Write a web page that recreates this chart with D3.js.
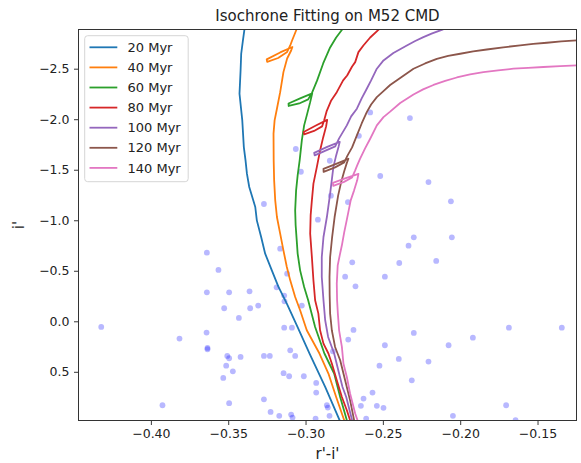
<!DOCTYPE html>
<html>
<head>
<meta charset="utf-8">
<script src="https://cdn.jsdelivr.net/npm/d3@7"></script>
<style>
  html, body { margin: 0; padding: 0; background: #fff; }
  svg { display: block; font-family: "DejaVu Sans", sans-serif; }
</style>
</head>
<body>
<svg id="chart" width="581" height="463"></svg>
<script>
// ---------- DATA ----------
const ages = ["20 Myr", "40 Myr", "60 Myr", "80 Myr", "100 Myr", "120 Myr", "140 Myr"];
const colors = ["#1f77b4", "#ff7f0e", "#2ca02c", "#d62728", "#9467bd", "#8c564b", "#e377c2"];
const xTicks = [-0.40, -0.35, -0.30, -0.25, -0.20, -0.15];
const yTicks = [-2.5, -2.0, -1.5, -1.0, -0.5, 0.0, 0.5];

// observed stars: [r'-i', i']
const stars = [
[-0.4321,0.056],[-0.3925,0.831],[-0.3815,0.171],[-0.3638,-0.679],[-0.3563,-0.508],[-0.3638,-0.287],
[-0.3494,-0.287],[-0.3362,-0.297],[-0.3526,-0.129],[-0.3358,-0.129],[-0.3306,-0.155],[-0.3431,-0.033],
[-0.3640,0.112],[-0.3634,0.264],[-0.3634,0.277],[-0.3506,0.343],[-0.3494,0.366],[-0.3513,0.439],
[-0.3470,0.495],[-0.3532,0.561],[-0.3420,0.353],[-0.3269,0.343],[-0.3231,0.343],[-0.3494,0.811],
[-0.3269,0.772],[-0.3226,0.897],[-0.3170,0.936],[-0.3269,-1.161],[-0.3164,-0.719],[-0.3187,-0.336],
[-0.3138,-0.254],[-0.3136,-0.198],[-0.3138,0.063],[-0.3088,0.063],[-0.3119,-0.471],[-0.3024,-0.155],
[-0.3099,0.287],[-0.3067,0.343],[-0.3142,0.514],[-0.3106,0.544],[-0.3011,0.544],[-0.2931,0.610],
[-0.2931,0.706],[-0.3093,0.923],[-0.3084,0.953],[-0.2935,0.963],[-0.3063,-1.705],[-0.3030,-1.480],
[-0.2920,-1.006],[-0.2843,-1.589],[-0.2836,-1.243],[-0.2726,-1.180],[-0.2582,-2.067],[-0.2655,-1.836],
[-0.2698,-0.584],[-0.2744,-0.442],[-0.2677,-0.346],[-0.2690,0.086],[-0.2724,0.181],[-0.2823,0.297],
[-0.2862,0.831],[-0.2856,0.854],[-0.2845,0.936],[-0.2625,0.765],[-0.2567,0.706],[-0.2642,0.837],
[-0.2539,0.837],[-0.2496,0.857],[-0.2608,0.963],[-0.2522,0.439],[-0.2487,0.237],[-0.2487,-0.442],
[-0.2517,-1.438],[-0.2394,-0.577],[-0.2397,0.373],[-0.2334,-0.748],[-0.2300,-0.831],[-0.2300,0.115],
[-0.2313,0.584],[-0.2325,-2.011],[-0.2205,-1.378],[-0.2205,0.399],[-0.2155,-0.597],[-0.2060,-1.187],
[-0.2054,-0.831],[-0.2075,0.237],[-0.1918,0.162],[-0.2047,0.936],[-0.1703,0.831],[-0.1685,0.063],
[-0.1343,0.063],[-0.1642,0.979]
];

// isochrones: [r'-i', i']
const iso20 = [
[-0.2763,1.045],[-0.2780,0.979],[-0.2873,0.650],[-0.2974,0.320],[-0.3052,0.056],[-0.3121,-0.175],
[-0.3175,-0.340],[-0.3218,-0.504],[-0.3261,-0.669],[-0.3287,-0.834],[-0.3315,-0.999],[-0.3325,-1.131],
[-0.3364,-1.329],[-0.3379,-1.461],[-0.3388,-1.592],[-0.3399,-1.724],[-0.3409,-1.988],[-0.3427,-2.252],
[-0.3420,-2.483],[-0.3416,-2.648],[-0.3405,-2.779],[-0.3390,-2.944]
];
const iso40 = [
[-0.2737,1.029],[-0.2750,0.979],[-0.2802,0.749],[-0.2852,0.517],[-0.2910,0.319],[-0.2992,0.089],
[-0.3035,-0.109],[-0.3067,-0.240],[-0.3099,-0.405],[-0.3121,-0.537],[-0.3143,-0.702],[-0.3164,-0.867],
[-0.3185,-1.032],[-0.3196,-1.197],[-0.3203,-1.395],[-0.3206,-1.592],[-0.3207,-1.857],[-0.3200,-1.988],
[-0.3185,-2.104],[-0.3164,-2.268],[-0.3143,-2.466],[-0.3119,-2.601],[-0.3093,-2.680],[-0.3085,-2.715],
[-0.3164,-2.661],[-0.3251,-2.592],[-0.3248,-2.567],[-0.3177,-2.606],[-0.3119,-2.666],
[-0.3099,-2.730],[-0.3087,-2.779],[-0.3074,-2.829],[-0.3061,-2.878],[-0.3048,-2.928]
];
const iso60 = [
[-0.2721,1.029],[-0.2733,0.979],[-0.2776,0.749],[-0.2815,0.517],[-0.2878,0.319],[-0.2938,0.056],
[-0.2983,-0.208],[-0.3009,-0.339],[-0.3035,-0.504],[-0.3051,-0.670],[-0.3057,-0.801],[-0.3064,-0.950],
[-0.3067,-1.098],[-0.3061,-1.296],[-0.3051,-1.444],[-0.3038,-1.592],[-0.3024,-1.790],[-0.3009,-1.939],
[-0.2992,-2.038],[-0.2970,-2.169],[-0.2957,-2.255],[-0.3035,-2.206],[-0.3110,-2.156],[-0.3109,-2.131],
[-0.3041,-2.156],[-0.2983,-2.196],[-0.2957,-2.265],[-0.2925,-2.384],
[-0.2886,-2.552],[-0.2841,-2.710],[-0.2802,-2.809],[-0.2763,-2.888],[-0.2737,-2.938]
];
const iso80 = [
[-0.2699,1.039],[-0.2712,0.979],[-0.2733,0.880],[-0.2765,0.749],[-0.2798,0.584],[-0.2830,0.418],
[-0.2852,0.319],[-0.2884,0.221],[-0.2906,0.089],[-0.2917,-0.076],[-0.2938,-0.208],[-0.2949,-0.406],
[-0.2959,-0.636],[-0.2970,-0.867],[-0.2967,-1.048],[-0.2959,-1.197],[-0.2949,-1.362],[-0.2927,-1.526],
[-0.2906,-1.691],[-0.2886,-1.820],[-0.2867,-1.929],[-0.2860,-1.993],[-0.2936,-1.935],[-0.3012,-1.874],
[-0.3009,-1.850],[-0.2945,-1.884],[-0.2893,-1.929],[-0.2880,-1.988],[-0.2864,-2.077],
[-0.2834,-2.186],[-0.2798,-2.268],[-0.2757,-2.384],[-0.2731,-2.433],[-0.2699,-2.522],[-0.2679,-2.565],
[-0.2658,-2.664],[-0.2626,-2.730],[-0.2582,-2.809],[-0.2529,-2.885],[-0.2498,-2.938]
];
const iso100 = [
[-0.2686,1.039],[-0.2699,0.979],[-0.2737,0.749],[-0.2761,0.650],[-0.2783,0.517],[-0.2815,0.319],
[-0.2854,0.155],[-0.2873,-0.010],[-0.2884,-0.208],[-0.2895,-0.438],[-0.2895,-0.636],[-0.2884,-0.834],
[-0.2862,-1.032],[-0.2841,-1.263],[-0.2820,-1.526],[-0.2802,-1.642],[-0.2786,-1.731],[-0.2779,-1.775],
[-0.2860,-1.726],[-0.2944,-1.667],[-0.2941,-1.642],[-0.2867,-1.691],[-0.2808,-1.731],
[-0.2783,-1.810],[-0.2733,-1.939],[-0.2705,-2.028],[-0.2668,-2.104],[-0.2637,-2.206],[-0.2604,-2.302],
[-0.2576,-2.384],[-0.2539,-2.500],[-0.2496,-2.582],[-0.2432,-2.656],[-0.2345,-2.730],[-0.2291,-2.774],
[-0.2238,-2.812],[-0.2181,-2.849],[-0.2119,-2.885],[-0.2065,-2.918]
];
const iso120 = [
[-0.2673,1.039],[-0.2686,0.979],[-0.2712,0.781],[-0.2744,0.584],[-0.2776,0.386],[-0.2809,0.254],
[-0.2830,0.089],[-0.2841,-0.076],[-0.2844,-0.257],[-0.2845,-0.438],[-0.2841,-0.636],[-0.2828,-0.834],
[-0.2812,-1.032],[-0.2789,-1.246],[-0.2770,-1.375],[-0.2750,-1.484],[-0.2734,-1.563],[-0.2723,-1.609],
[-0.2802,-1.558],[-0.2884,-1.508],[-0.2883,-1.479],[-0.2809,-1.523],[-0.2750,-1.573],
[-0.2728,-1.642],[-0.2699,-1.721],[-0.2668,-1.840],[-0.2637,-1.958],[-0.2604,-2.070],[-0.2576,-2.146],
[-0.2539,-2.219],[-0.2498,-2.275],[-0.2453,-2.339],[-0.2388,-2.409],[-0.2302,-2.500],[-0.2227,-2.552],
[-0.2151,-2.598],[-0.2078,-2.626],[-0.2000,-2.648],[-0.1916,-2.671],[-0.1828,-2.690],[-0.1722,-2.712],
[-0.1612,-2.730],[-0.1528,-2.745],[-0.1440,-2.757],[-0.1347,-2.770],[-0.1246,-2.780],[-0.1192,-2.784]
];
const iso140 = [
[-0.2657,1.039],[-0.2664,0.979],[-0.2679,0.913],[-0.2712,0.715],[-0.2733,0.551],[-0.2755,0.418],
[-0.2765,0.254],[-0.2783,0.089],[-0.2791,-0.076],[-0.2796,-0.208],[-0.2798,-0.373],[-0.2792,-0.554],
[-0.2779,-0.653],[-0.2765,-0.752],[-0.2750,-0.880],[-0.2734,-0.999],[-0.2721,-1.098],[-0.2708,-1.197],
[-0.2686,-1.296],[-0.2666,-1.395],[-0.2658,-1.459],[-0.2744,-1.414],[-0.2823,-1.370],[-0.2821,-1.340],
[-0.2751,-1.380],[-0.2699,-1.424],[-0.2679,-1.494],[-0.2666,-1.543],[-0.2647,-1.609],
[-0.2615,-1.711],[-0.2582,-1.807],[-0.2539,-1.939],[-0.2496,-2.021],[-0.2453,-2.075],[-0.2388,-2.161],
[-0.2302,-2.245],[-0.2240,-2.295],[-0.2173,-2.339],[-0.2097,-2.379],[-0.2022,-2.413],[-0.1936,-2.443],
[-0.1850,-2.466],[-0.1755,-2.483],[-0.1656,-2.500],[-0.1561,-2.509],[-0.1462,-2.517],[-0.1354,-2.525],
[-0.1246,-2.532],[-0.1192,-2.535]
];
const isochrones = [iso20, iso40, iso60, iso80, iso100, iso120, iso140];

// ---------- CHART ----------
const svg = d3.select("#chart");
const L = 78.5, R = 576.5, T = 29.5, B = 420.5;
const x = d3.scaleLinear().domain([-0.4468, -0.1248]).range([L, R]);
const y = d3.scaleLinear().domain([-2.888, 0.982]).range([T, B]);

svg.append("defs").append("clipPath").attr("id", "clip")
  .append("rect").attr("x", L).attr("y", T).attr("width", R - L).attr("height", B - T);

const plot = svg.append("g").attr("clip-path", "url(#clip)");

plot.selectAll("circle.star").data(stars).enter().append("circle")
  .attr("class", "star")
  .attr("cx", d => x(d[0])).attr("cy", d => y(d[1])).attr("r", 2.9)
  .attr("fill", "#0000ff").attr("fill-opacity", 0.28);

const line = d3.line().x(d => x(d[0])).y(d => y(d[1]));
plot.selectAll("path.iso").data(isochrones).enter().append("path")
  .attr("class", "iso")
  .attr("d", line)
  .attr("fill", "none")
  .attr("stroke", (d, i) => colors[i])
  .attr("stroke-width", 1.8)
  .attr("stroke-linejoin", "round");

// axes
const xAxis = svg.append("g").attr("transform", `translate(0,${B})`)
  .call(d3.axisBottom(x).tickValues(xTicks).tickFormat(d3.format(".2f")).tickSizeOuter(0).tickSize(4.5).tickPadding(4.5));
const yAxis = svg.append("g").attr("transform", `translate(${L},0)`)
  .call(d3.axisLeft(y).tickValues(yTicks).tickFormat(d3.format(".1f")).tickSizeOuter(0).tickSize(4.5).tickPadding(4.5));
[xAxis, yAxis].forEach(a => {
  a.select(".domain").remove();
  a.selectAll("line").attr("stroke", "#222").attr("stroke-width", 0.9);
  a.selectAll("text").attr("fill", "#222").style("font-size", "12.5px").style("font-family", "DejaVu Sans");
});

// frame
svg.append("rect").attr("x", L).attr("y", T).attr("width", R - L).attr("height", B - T)
  .attr("fill", "none").attr("stroke", "#333").attr("stroke-width", 1);

// labels
svg.append("text").attr("x", (L + R) / 2).attr("y", 20.5).attr("text-anchor", "middle")
  .style("font-size", "15px").attr("fill", "#222").text("Isochrone Fitting on M52 CMD");
svg.append("text").attr("x", (L + R) / 2).attr("y", 459).attr("text-anchor", "middle")
  .style("font-size", "15px").attr("fill", "#222").text("r'-i'");
svg.append("text").attr("transform", `translate(24,${(T + B) / 2}) rotate(-90)`)
  .attr("text-anchor", "middle").style("font-size", "15px").attr("fill", "#222").text("i'");

// legend
const lg = svg.append("g");
lg.append("rect").attr("x", 84.7).attr("y", 35.7).attr("width", 103.5).attr("height", 146)
  .attr("rx", 3).attr("fill", "#fff").attr("fill-opacity", 0.8)
  .attr("stroke", "#d6d6d6").attr("stroke-width", 1);
ages.forEach((a, i) => {
  const yy = 47.3 + i * 20.1;
  lg.append("line").attr("x1", 89.5).attr("x2", 117.3).attr("y1", yy).attr("y2", yy)
    .attr("stroke", colors[i]).attr("stroke-width", 1.8);
  lg.append("text").attr("x", 127.5).attr("y", yy).attr("dy", "0.36em")
    .style("font-size", "13px").attr("fill", "#222").text(a);
});
</script>
</body>
</html>
